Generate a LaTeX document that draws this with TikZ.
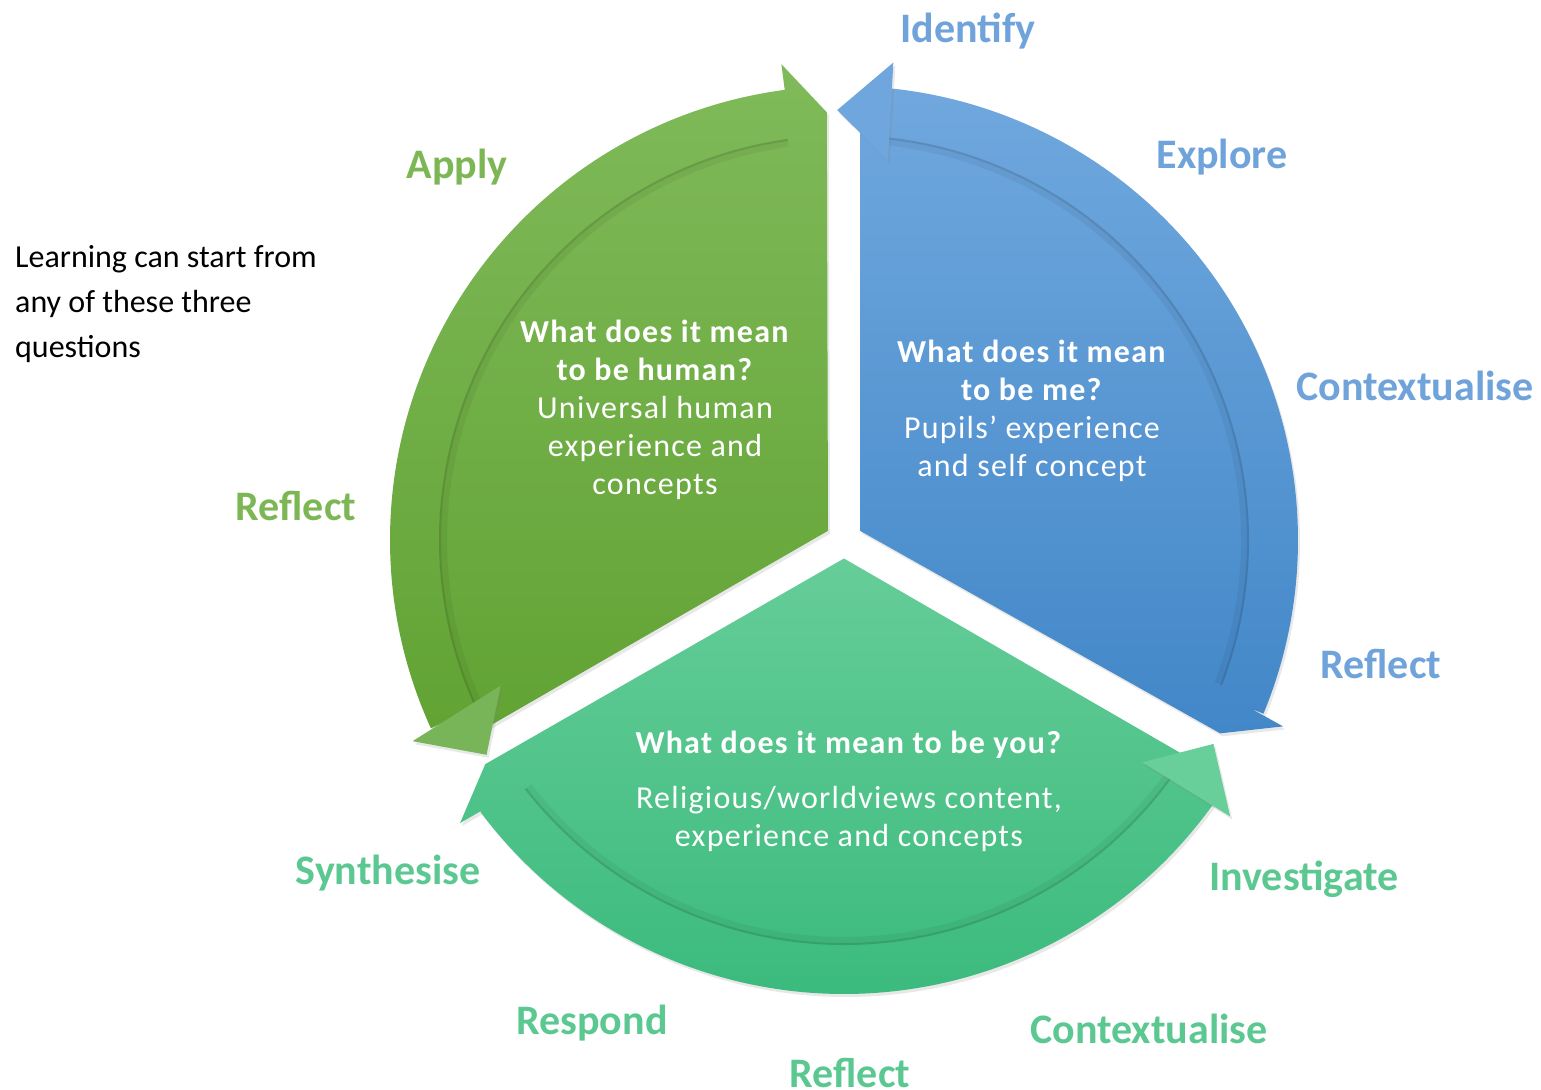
\documentclass[tikz,border=0pt]{standalone}
\usepackage{fontspec}
\setmainfont{Carlito}
\usetikzlibrary{shadows}

\definecolor{greenTop}{RGB}{128,186,90}
\definecolor{greenBot}{RGB}{98,163,52}
\definecolor{greenHead}{RGB}{120,181,88}
\definecolor{greenText}{RGB}{125,182,85}
\definecolor{blueTop}{RGB}{112,168,222}
\definecolor{blueBot}{RGB}{66,135,200}
\definecolor{blueHead}{RGB}{110,166,221}
\definecolor{blueText}{RGB}{111,163,218}
\definecolor{tealTop}{RGB}{102,205,152}
\definecolor{tealBot}{RGB}{58,186,125}
\definecolor{tealHead}{RGB}{104,206,154}
\definecolor{tealText}{RGB}{92,200,145}

\begin{document}
\begin{tikzpicture}[x=1pt,y=1pt,
    every node/.style={inner sep=0pt},
    stage/.style={font=\fontsize{42}{50}\selectfont\bfseries, anchor=base},
    question/.style={font=\fontsize{32}{38}\selectfont\addfontfeatures{LetterSpace=4}, text=white, align=center},
    note/.style={font=\fontsize{32}{45}\selectfont, align=left, anchor=north west},
    soft shadow/.style={drop shadow={opacity=0.18, shadow xshift=2pt, shadow yshift=-3pt}},
    rim/.style={line width=2pt, black, opacity=0.15}]
    \useasboundingbox (-844,-549) rectangle (697,540);
    % green part: wedge, band and head
    \shade [top color=greenTop, bottom color=greenBot, soft shadow]
        (-16,9.2) -- (92.3:428pt) -- (97.5:404pt) arc[start angle=97.5, end angle=207.7, radius=404pt] -- cycle
        (97:404pt) -- (97:454pt) arc[start angle=97, end angle=204.5, radius=454pt] -- (204.5:404pt) arc[start angle=204.5, end angle=97, radius=404pt] -- cycle
        (92.3:428pt) -- (97.5:480pt) -- (97.5:372pt) -- cycle;
    \draw [rim] (98:404pt) arc[start angle=98, end angle=204, radius=404pt];
    \draw [rim, line width=6pt, opacity=0.05] (98:400pt) arc[start angle=98, end angle=204, radius=400pt];
    \fill [greenHead, soft shadow] (205:476pt) -- (211:417pt) -- (203:373pt) -- cycle;
    % blue part
    \shade [top color=blueTop, bottom color=blueBot, soft shadow]
        (16,9.2) -- (-27.2:423pt) -- (-22:404pt) arc[start angle=-22, end angle=84, radius=404pt] -- (16,408) -- cycle
        (-22.5:404pt) -- (-22.5:454pt) arc[start angle=-22.5, end angle=84.5, radius=454pt] -- (84.5:404pt) arc[start angle=84.5, end angle=-22.5, radius=404pt] -- cycle
        (-27.2:423pt) -- (-23:477pt) -- (-21.3:372pt) -- cycle;
    \draw [rim] (-21:404pt) arc[start angle=-21, end angle=84, radius=404pt];
    \draw [rim, line width=6pt, opacity=0.05] (-21:400pt) arc[start angle=-21, end angle=84, radius=400pt];
    \fill [blueHead, soft shadow] (90.9:430pt) -- (84.1:480pt) -- (83.4:382pt) -- cycle;
    % teal part
    \shade [top color=tealTop, bottom color=tealBot, soft shadow]
        (0,-18.5) -- (212:423pt) -- (217:404pt) arc[start angle=217, end angle=327.7, radius=404pt] -- cycle
        (216.8:404pt) -- (216.8:454pt) arc[start angle=216.8, end angle=324.5, radius=454pt] -- (324.5:404pt) arc[start angle=324.5, end angle=216.8, radius=404pt] -- cycle
        (212:423pt) -- (216.4:477pt) -- (218.3:368pt) -- cycle;
    \draw [rim] (218:404pt) arc[start angle=218, end angle=324, radius=404pt];
    \draw [rim, line width=6pt, opacity=0.05] (218:400pt) arc[start angle=218, end angle=324, radius=400pt];
    \fill [tealHead, soft shadow] (324.4:475pt) -- (331.1:422pt) -- (323.3:372pt) -- cycle;
    % questions
    \node [question] (human) at (-189,130) {\textbf{What does it mean}\\\textbf{to be human?}\\Universal human\\experience and\\concepts};
    \node [question] (me) at (188,129) {\textbf{What does it mean}\\\textbf{to be me?}\\Pupils’ experience\\and self concept};
    \node [question] (you) at (5,-251) {\textbf{What does it mean to be you?}\\[17pt]Religious/worldviews content,\\experience and concepts};
    % stages
    \node [stage, text=blueText] (identify) at (124,497) {Identify};
    \node [stage, text=blueText] (explore) at (378,371) {Explore};
    \node [stage, text=blueText] (context1) at (571,139) {Contextualise};
    \node [stage, text=blueText] (reflect1) at (537,-138) {Reflect};
    \node [stage, text=greenText] (apply) at (-387,361) {Apply};
    \node [stage, text=greenText] (reflect2) at (-548,19) {Reflect};
    \node [stage, text=tealText] (synth) at (-456,-344) {Synthesise};
    \node [stage, text=tealText] (respond) at (-252,-494) {Respond};
    \node [stage, text=tealText] (reflect3) at (6,-547) {Reflect};
    \node [stage, text=tealText] (context2) at (305,-503) {Contextualise};
    \node [stage, text=tealText] (invest) at (460,-350) {Investigate};
    \node [note] (start) at (-829,295) {Learning can start from\\any of these three\\questions};
\end{tikzpicture}
\end{document}
